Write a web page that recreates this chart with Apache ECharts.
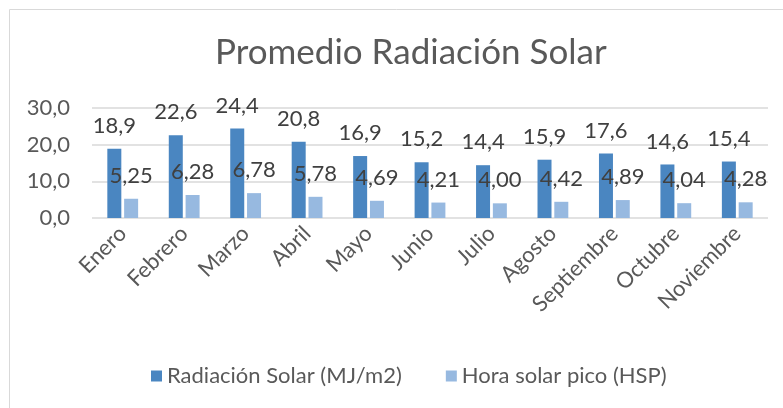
<!DOCTYPE html>
<html>
<head>
<meta charset="utf-8">
<script src="https://cdn.jsdelivr.net/npm/echarts@6/dist/echarts.min.js"></script>
<style>
  html, body { margin: 0; padding: 0; background: #fff; }
  #chart { width: 783px; height: 408px; }
</style>
</head>
<body>
<div id="chart"></div>
<script>
// datos del grafico
const meses = ["Enero", "Febrero", "Marzo", "Abril", "Mayo", "Junio", "Julio", "Agosto", "Septiembre", "Octubre", "Noviembre"];
const radiacion = [18.9, 22.6, 24.4, 20.8, 16.9, 15.2, 14.4, 15.9, 17.6, 14.6, 15.4];
const hsp = [5.25, 6.28, 6.78, 5.78, 4.69, 4.21, 4.00, 4.42, 4.89, 4.04, 4.28];
const ticksY = [0, 10, 20, 30];

const fuente = "Lato";
const chart = echarts.init(document.getElementById("chart"));

const coma = (v, d) => v.toFixed(d).replace(".", ",");

chart.setOption({
  animation: false,
  textStyle: { fontFamily: fuente },
  title: {
    text: "Promedio Radiación Solar",
    left: 210,
    top: 30,
    textStyle: { fontFamily: fuente, fontSize: 35, fontWeight: "normal", color: "#595959" }
  },
  graphic: [
    {
      type: "rect",
      shape: { x: 9.5, y: 9.5, width: 820, height: 420 },
      style: { fill: "none", stroke: "#d9d9d9", lineWidth: 1 }
    }
  ],
  legend: {
    bottom: 16,
    left: 146,
    itemWidth: 11,
    itemHeight: 11,
    itemGap: 44,
    icon: "rect",
    textStyle: { fontFamily: fuente, fontSize: 22, color: "#595959" }
  },
  grid: { left: 92, right: 15, top: 108, bottom: 190 },
  xAxis: {
    type: "category",
    data: meses,
    axisLine: { show: false },
    axisTick: { show: false },
    axisLabel: {
      rotate: 45,
      margin: 12,
      interval: 0,
      fontFamily: fuente,
      fontSize: 22,
      color: "#595959"
    }
  },
  yAxis: {
    type: "value",
    min: ticksY[0],
    max: ticksY[ticksY.length - 1],
    interval: 10,
    axisLine: { show: false },
    axisTick: { show: false },
    splitLine: { lineStyle: { color: "#d9d9d9", width: 1.5 } },
    axisLabel: {
      margin: 22,
      fontFamily: fuente,
      fontSize: 22,
      color: "#595959",
      formatter: (v) => coma(v, 1)
    }
  },
  series: [
    {
      name: "Radiación Solar (MJ/m2)",
      type: "bar",
      data: radiacion,
      barWidth: 14,
      barGap: "20%",
      itemStyle: { color: "#4a86c1" },
      label: {
        show: true,
        position: "top",
        distance: 12,
        fontFamily: fuente,
        fontSize: 22,
        color: "#404040",
        formatter: (p) => coma(p.value, 1)
      }
    },
    {
      name: "Hora solar pico (HSP)",
      type: "bar",
      data: hsp,
      barWidth: 14,
      itemStyle: { color: "#97b9e0" },
      label: {
        show: true,
        position: "top",
        distance: 12,
        fontFamily: fuente,
        fontSize: 22,
        color: "#404040",
        formatter: (p) => coma(p.value, 2)
      }
    }
  ]
});
</script>
</body>
</html>
